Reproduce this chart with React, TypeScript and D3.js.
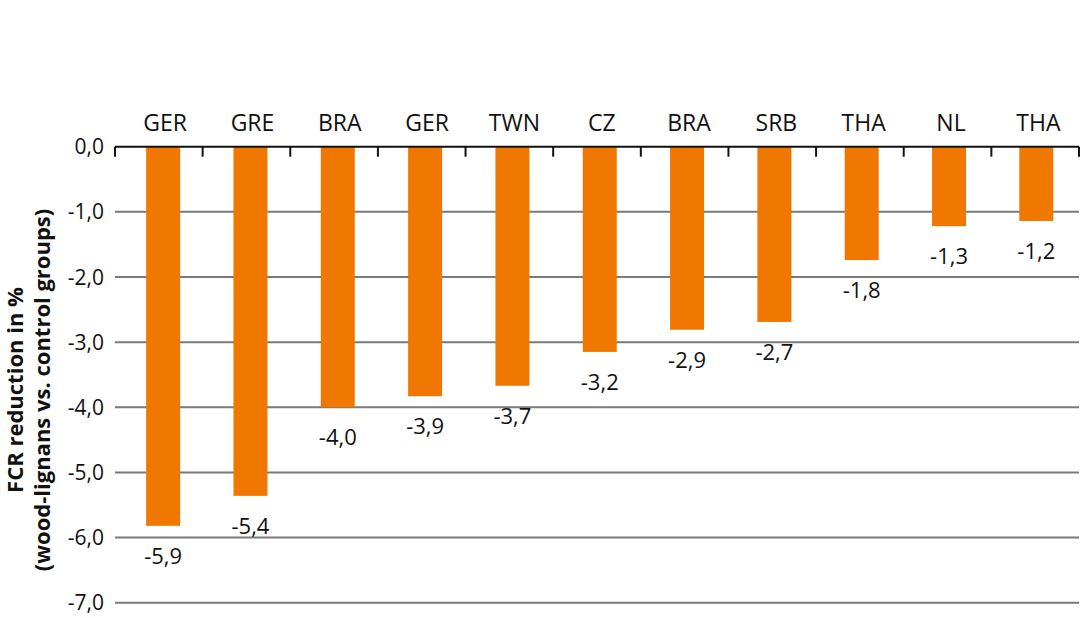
import React from "react";
import * as d3 from "d3";

const categories = ["GER", "GRE", "BRA", "GER", "TWN", "CZ", "BRA", "SRB", "THA", "NL", "THA"];
const values = [-5.82, -5.36, -4.0, -3.83, -3.67, -3.15, -2.81, -2.69, -1.74, -1.22, -1.14];
const valueLabels = ["-5,9", "-5,4", "-4,0", "-3,9", "-3,7", "-3,2", "-2,9", "-2,7", "-1,8", "-1,3", "-1,2"];
const yTicks = [0, -1, -2, -3, -4, -5, -6, -7];
const yTickLabels = ["0,0", "-1,0", "-2,0", "-3,0", "-4,0", "-5,0", "-6,0", "-7,0"];

const W = 1080;
const H = 618;
const FONT = "'Open Sans', 'Noto Sans', sans-serif";
const ORANGE = "#F07800";

export default function App() {
  const y = d3.scaleLinear().domain([0, -7]).range([146.7, 602.7]);
  const xAxis = d3.scaleLinear().domain([0, categories.length]).range([115, 1079]);
  const xBar = d3
    .scaleBand<number>()
    .domain(d3.range(categories.length))
    .range([119.5, 1080])
    .paddingInner(0.61)
    .paddingOuter(0.305);
  const bw = 34;

  return (
    <svg width={W} height={H} style={{ position: "absolute", left: 0, top: 0, background: "#fff" }}>
      {yTicks.slice(1).map((t) => (
        <line key={t} x1={115} x2={1079} y1={y(t)} y2={y(t)} stroke="#7a7a7a" strokeWidth={2} />
      ))}
      {yTicks.map((t, i) => (
        <text
          key={"yl" + i}
          x={104}
          y={y(t)}
          dy="0.36em"
          textAnchor="end"
          fontFamily={FONT}
          fontSize={21}
          fill="#111"
        >
          {yTickLabels[i]}
        </text>
      ))}
      {values.map((v, i) => {
        const cx = xBar(i)! + xBar.bandwidth() / 2;
        return (
          <g key={"b" + i}>
            <rect x={cx - bw / 2} y={y(0)} width={bw} height={y(v) - y(0)} fill={ORANGE} />
            <text
              x={cx}
              y={y(v) + 30}
              dy="0.36em"
              textAnchor="middle"
              fontFamily={FONT}
              fontSize={22}
              fill="#111"
            >
              {valueLabels[i]}
            </text>
            <text
              x={cx + 2}
              y={131}
              textAnchor="middle"
              fontFamily={FONT}
              fontSize={23}
              fill="#111"
            >
              {categories[i]}
            </text>
          </g>
        );
      })}
      <line x1={115} x2={1079} y1={y(0)} y2={y(0)} stroke="#111" strokeWidth={2} />
      {d3.range(categories.length + 1).map((k) => (
        <line
          key={"t" + k}
          x1={xAxis(k)}
          x2={xAxis(k)}
          y1={y(0)}
          y2={y(0) + 10}
          stroke="#111"
          strokeWidth={2}
        />
      ))}
      <g transform="translate(0,390) rotate(-90)">
        <text textAnchor="middle" y={23} fontFamily={FONT} fontSize={22} fontWeight="bold" fill="#111">
          FCR reduction in %
        </text>
        <text textAnchor="middle" y={50} fontFamily={FONT} fontSize={22} fontWeight="bold" fill="#111">
          (wood-lignans vs. control groups)
        </text>
      </g>
    </svg>
  );
}
